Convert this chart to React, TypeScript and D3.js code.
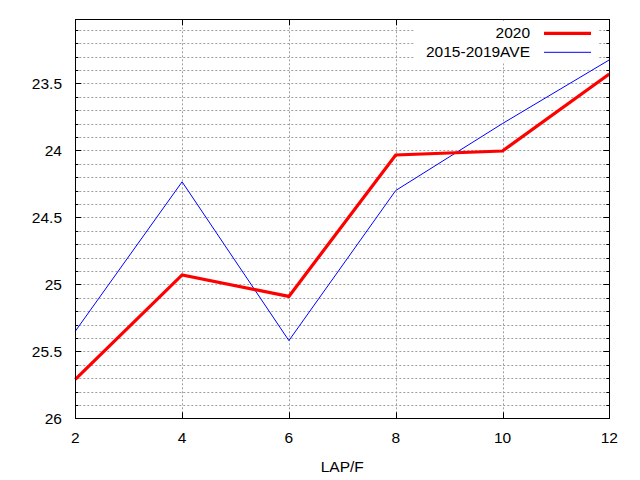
import React, { useEffect, useRef } from 'react';
import * as d3 from 'd3';

// data (y axis reversed: smaller is higher)
const laps = [2, 4, 6, 8, 10, 12];
const series2020 = [25.71, 24.93, 25.09, 24.035, 24.005, 23.43];
const seriesAve = [25.35, 24.235, 25.42, 24.3, 23.8, 23.325];
const yMajorTicks = [23.5, 24, 24.5, 25, 25.5, 26];
const xTicks = [2, 4, 6, 8, 10, 12];

const App = () => {
  const ref = useRef(null);

  useEffect(() => {
    document.body.style.margin = '0';
    if (!ref.current) return;
    const svg = d3.select(ref.current);
    svg.selectAll('*').remove();

    const left = 75.3, right = 609.3, top = 19.3, bottom = 418.3;
    const font = '"Liberation Sans", Arial, sans-serif';

    const x = d3.scaleLinear().domain([2, 12]).range([left, right]);
    const y = d3.scaleLinear().domain([26, 23.022]).range([bottom, top]);

    svg.append('rect').attr('width', 640).attr('height', 480).attr('fill', 'white');

    // minor ticks every 0.1
    const minor = d3.range(231, 260).map(v => v / 10).filter(v => !yMajorTicks.includes(v));
    const allY = d3.range(231, 261).map(v => v / 10);

    const grid = svg.append('g')
      .attr('stroke', '#a0a0a0')
      .attr('stroke-width', 1)
      .attr('stroke-dasharray', '2,2');

    allY.forEach(v => {
      if (v >= 26) return;
      grid.append('line')
        .attr('x1', left).attr('x2', right)
        .attr('y1', Math.round(y(v)) + 0.5).attr('y2', Math.round(y(v)) + 0.5);
    });
    xTicks.slice(1, -1).forEach(v => {
      grid.append('line')
        .attr('x1', Math.round(x(v)) + 0.5).attr('x2', Math.round(x(v)) + 0.5)
        .attr('y1', top).attr('y2', bottom);
    });

    // ticks
    const ticks = svg.append('g').attr('stroke', 'black').attr('stroke-width', 1);
    yMajorTicks.forEach(v => {
      const yy = Math.round(y(v)) + 0.5;
      ticks.append('line').attr('x1', left).attr('x2', left + 6).attr('y1', yy).attr('y2', yy);
      ticks.append('line').attr('x1', right).attr('x2', right - 6).attr('y1', yy).attr('y2', yy);
    });
    minor.forEach(v => {
      const yy = Math.round(y(v)) + 0.5;
      ticks.append('line').attr('x1', left).attr('x2', left + 3).attr('y1', yy).attr('y2', yy);
      ticks.append('line').attr('x1', right).attr('x2', right - 3).attr('y1', yy).attr('y2', yy);
    });
    xTicks.forEach(v => {
      const xx = Math.round(x(v)) + 0.5;
      ticks.append('line').attr('x1', xx).attr('x2', xx).attr('y1', bottom).attr('y2', bottom - 6);
      ticks.append('line').attr('x1', xx).attr('x2', xx).attr('y1', top).attr('y2', top + 6);
    });

    // tick labels
    svg.append('g').selectAll('text').data(yMajorTicks).enter().append('text')
      .attr('x', 62).attr('y', d => y(d) + 5.6)
      .attr('text-anchor', 'end')
      .style('font-family', font).style('font-size', '15.5px')
      .text(d => String(d));

    svg.append('g').selectAll('text').data(xTicks).enter().append('text')
      .attr('x', d => x(d)).attr('y', 442.7)
      .attr('text-anchor', 'middle')
      .style('font-family', font).style('font-size', '15.5px')
      .text(d => String(d));

    svg.append('text')
      .attr('x', (left + right) / 2).attr('y', 471.7)
      .attr('text-anchor', 'middle')
      .style('font-family', font).style('font-size', '15.5px')
      .text('LAP/F');

    // lines
    const line = d3.line<number>().x((d, i) => x(laps[i])).y(d => y(d));
    svg.append('path').datum(seriesAve)
      .attr('d', line).attr('fill', 'none')
      .attr('stroke', '#0000ff').attr('stroke-width', 1);
    svg.append('path').datum(series2020)
      .attr('d', line).attr('fill', 'none')
      .attr('stroke', '#ff0000').attr('stroke-width', 3.2);

    // legend with white box
    svg.append('rect')
      .attr('x', 414).attr('y', top + 1).attr('width', 184).attr('height', 43)
      .attr('fill', 'white');
    const legend = [
      { label: '2020', color: '#ff0000', w: 3.2, y: 33.3 },
      { label: '2015-2019AVE', color: '#0000ff', w: 1, y: 52.3 }
    ];
    legend.forEach(l => {
      svg.append('text')
        .attr('x', 530).attr('y', l.y + 4.5)
        .attr('text-anchor', 'end')
        .style('font-family', font).style('font-size', '15.5px')
        .text(l.label);
      svg.append('line')
        .attr('x1', 544).attr('x2', 591).attr('y1', l.y).attr('y2', l.y)
        .attr('stroke', l.color).attr('stroke-width', l.w);
    });

    // frame
    svg.append('rect')
      .attr('x', Math.round(left) + 0.5).attr('y', Math.round(top) + 0.5)
      .attr('width', Math.round(right) - Math.round(left))
      .attr('height', Math.round(bottom) - Math.round(top))
      .attr('fill', 'none').attr('stroke', 'black').attr('stroke-width', 1);
  }, []);

  return <svg ref={ref} width={640} height={480} style={{ display: 'block' }} />;
};

export default App;
